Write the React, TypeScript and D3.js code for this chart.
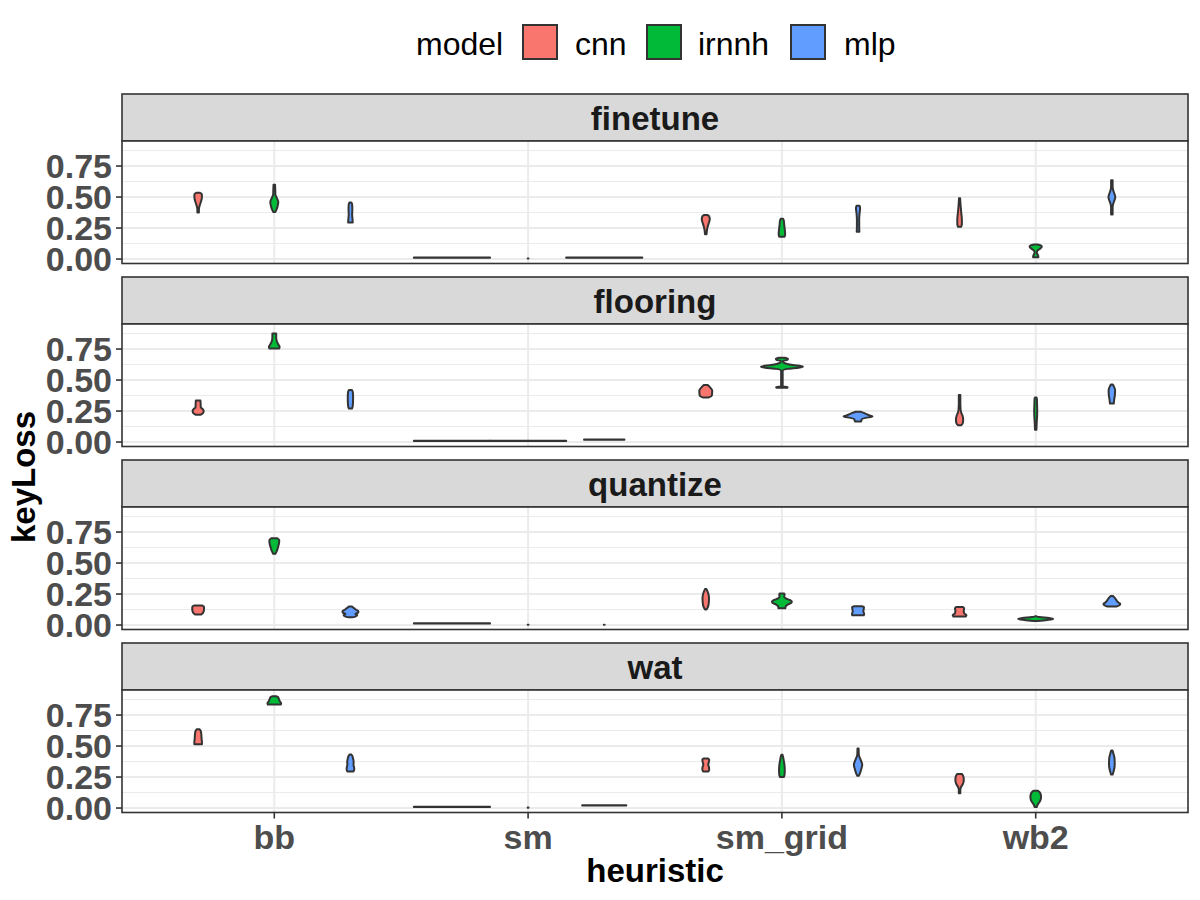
import React from "react";
import * as d3 from "d3";

// ---- data ----------------------------------------------------------------
const heuristics = ["bb", "sm", "sm_grid", "wb2"];
const models = ["cnn", "irnnh", "mlp"];
const modelColors = ["#F8766D", "#00BA38", "#619CFF"];
const facets = ["finetune", "flooring", "quantize", "wat"];
const yTicks = [0, 0.25, 0.5, 0.75];
const yMinorTicks = [0.125, 0.375, 0.625, 0.875];
const yTickLabels = ["0.00", "0.25", "0.50", "0.75"];

// Violin profiles: [keyLoss value, relative density width (1 = full dodge slot)]
type Profile = [number, number][];
type Violin = { heuristic: string; model: string; profile: Profile };

const finetuneViolins: Violin[] = [
  { heuristic: "bb", model: "cnn", profile: [[0.375, 0.02], [0.4, 0.02], [0.42, 0.03], [0.45, 0.06], [0.48, 0.09], [0.51, 0.1], [0.525, 0.09], [0.535, 0.04]] },
  { heuristic: "bb", model: "irnnh", profile: [[0.38, 0.03], [0.4, 0.06], [0.43, 0.09], [0.46, 0.105], [0.49, 0.07], [0.52, 0.03], [0.56, 0.025], [0.6, 0.02]] },
  { heuristic: "bb", model: "mlp", profile: [[0.295, 0.06], [0.32, 0.055], [0.36, 0.045], [0.4, 0.05], [0.44, 0.045], [0.455, 0.025]] },
  { heuristic: "sm", model: "cnn", profile: [[0.011, 1], [0.013, 1]] },
  { heuristic: "sm", model: "irnnh", profile: [[0.004, 0.01], [0.005, 0.01]] },
  { heuristic: "sm", model: "mlp", profile: [[0.011, 1], [0.013, 1]] },
  { heuristic: "sm_grid", model: "cnn", profile: [[0.2, 0.02], [0.23, 0.03], [0.26, 0.05], [0.29, 0.08], [0.32, 0.105], [0.345, 0.09], [0.355, 0.04]] },
  { heuristic: "sm_grid", model: "irnnh", profile: [[0.18, 0.07], [0.2, 0.085], [0.24, 0.075], [0.28, 0.06], [0.31, 0.05], [0.325, 0.03]] },
  { heuristic: "sm_grid", model: "mlp", profile: [[0.22, 0.035], [0.26, 0.03], [0.32, 0.03], [0.37, 0.04], [0.41, 0.055], [0.43, 0.04]] },
  { heuristic: "wb2", model: "cnn", profile: [[0.26, 0.04], [0.28, 0.06], [0.32, 0.06], [0.37, 0.045], [0.42, 0.03], [0.46, 0.02], [0.49, 0.015]] },
  { heuristic: "wb2", model: "irnnh", profile: [[0.015, 0.07], [0.03, 0.06], [0.05, 0.03], [0.065, 0.04], [0.085, 0.12], [0.1, 0.16], [0.112, 0.12], [0.118, 0.05]] },
  { heuristic: "wb2", model: "mlp", profile: [[0.36, 0.02], [0.42, 0.02], [0.45, 0.04], [0.5, 0.09], [0.55, 0.04], [0.58, 0.02], [0.635, 0.02]] },
];

const flooringViolins: Violin[] = [
  { heuristic: "bb", model: "cnn", profile: [[0.22, 0.06], [0.235, 0.13], [0.25, 0.145], [0.265, 0.12], [0.28, 0.07], [0.31, 0.065], [0.335, 0.06]] },
  { heuristic: "bb", model: "irnnh", profile: [[0.755, 0.13], [0.77, 0.14], [0.79, 0.1], [0.82, 0.06], [0.85, 0.05], [0.875, 0.05]] },
  { heuristic: "bb", model: "mlp", profile: [[0.27, 0.04], [0.29, 0.06], [0.35, 0.07], [0.4, 0.065], [0.42, 0.04]] },
  { heuristic: "sm", model: "cnn", profile: [[0.008, 1], [0.01, 1]] },
  { heuristic: "sm", model: "irnnh", profile: [[0.008, 1], [0.01, 1]] },
  { heuristic: "sm", model: "mlp", profile: [[0.018, 0.53], [0.02, 0.53]] },
  { heuristic: "sm_grid", model: "cnn", profile: [[0.36, 0.08], [0.375, 0.16], [0.415, 0.17], [0.445, 0.1], [0.46, 0.05]] },
  { heuristic: "sm_grid", model: "irnnh", profile: [[0.437, 0.14], [0.443, 0.15], [0.447, 0.02], [0.575, 0.02], [0.59, 0.15], [0.6, 0.45], [0.607, 0.55], [0.615, 0.45], [0.625, 0.2], [0.635, 0.08], [0.645, 0.03], [0.655, 0.03], [0.662, 0.14], [0.672, 0.16], [0.68, 0.08]] },
  { heuristic: "sm_grid", model: "mlp", profile: [[0.165, 0.08], [0.175, 0.09], [0.185, 0.1], [0.195, 0.2], [0.205, 0.38], [0.215, 0.3], [0.225, 0.22], [0.235, 0.15], [0.245, 0.06]] },
  { heuristic: "wb2", model: "cnn", profile: [[0.135, 0.04], [0.15, 0.08], [0.18, 0.095], [0.21, 0.08], [0.24, 0.04], [0.27, 0.025], [0.32, 0.02], [0.38, 0.02]] },
  { heuristic: "wb2", model: "irnnh", profile: [[0.1, 0.02], [0.15, 0.025], [0.2, 0.035], [0.25, 0.04], [0.3, 0.035], [0.35, 0.03], [0.36, 0.02]] },
  { heuristic: "wb2", model: "mlp", profile: [[0.31, 0.05], [0.34, 0.06], [0.38, 0.08], [0.42, 0.085], [0.45, 0.05], [0.465, 0.02]] },
];

const quantizeViolins: Violin[] = [
  { heuristic: "bb", model: "cnn", profile: [[0.085, 0.08], [0.095, 0.12], [0.11, 0.145], [0.13, 0.155], [0.15, 0.15], [0.158, 0.1]] },
  { heuristic: "bb", model: "irnnh", profile: [[0.575, 0.03], [0.6, 0.07], [0.63, 0.1], [0.66, 0.125], [0.685, 0.13], [0.7, 0.08]] },
  { heuristic: "bb", model: "mlp", profile: [[0.062, 0.05], [0.07, 0.14], [0.08, 0.18], [0.09, 0.13], [0.1, 0.2], [0.11, 0.21], [0.125, 0.14], [0.14, 0.08], [0.15, 0.04]] },
  { heuristic: "sm", model: "cnn", profile: [[0.012, 1], [0.014, 1]] },
  { heuristic: "sm", model: "irnnh", profile: [[0.002, 0.01], [0.003, 0.01]] },
  { heuristic: "sm", model: "mlp", profile: [[0.002, 0.01], [0.003, 0.01]] },
  { heuristic: "sm_grid", model: "cnn", profile: [[0.126, 0.02], [0.14, 0.05], [0.18, 0.08], [0.22, 0.085], [0.26, 0.06], [0.29, 0.02]] },
  { heuristic: "sm_grid", model: "irnnh", profile: [[0.135, 0.09], [0.15, 0.1], [0.165, 0.15], [0.18, 0.25], [0.19, 0.26], [0.2, 0.22], [0.215, 0.1], [0.23, 0.06], [0.245, 0.07], [0.255, 0.06]] },
  { heuristic: "sm_grid", model: "mlp", profile: [[0.078, 0.15], [0.09, 0.16], [0.11, 0.14], [0.13, 0.15], [0.145, 0.155], [0.152, 0.1]] },
  { heuristic: "wb2", model: "cnn", profile: [[0.068, 0.16], [0.08, 0.18], [0.095, 0.12], [0.115, 0.11], [0.135, 0.12], [0.145, 0.09]] },
  { heuristic: "wb2", model: "irnnh", profile: [[0.032, 0.05], [0.04, 0.3], [0.048, 0.46], [0.056, 0.35], [0.064, 0.1], [0.07, 0.02]] },
  { heuristic: "wb2", model: "mlp", profile: [[0.15, 0.12], [0.16, 0.2], [0.17, 0.22], [0.18, 0.18], [0.195, 0.13], [0.21, 0.1], [0.225, 0.06], [0.235, 0.02]] },
];

const watViolins: Violin[] = [
  { heuristic: "bb", model: "cnn", profile: [[0.515, 0.1], [0.53, 0.1], [0.56, 0.09], [0.59, 0.085], [0.62, 0.07], [0.635, 0.04]] },
  { heuristic: "bb", model: "irnnh", profile: [[0.835, 0.17], [0.845, 0.18], [0.86, 0.15], [0.88, 0.12], [0.895, 0.1], [0.902, 0.05]] },
  { heuristic: "bb", model: "mlp", profile: [[0.295, 0.08], [0.31, 0.1], [0.33, 0.095], [0.35, 0.08], [0.37, 0.085], [0.4, 0.07], [0.42, 0.05], [0.432, 0.02]] },
  { heuristic: "sm", model: "cnn", profile: [[0.009, 1], [0.011, 1]] },
  { heuristic: "sm", model: "irnnh", profile: [[0.003, 0.01], [0.004, 0.01]] },
  { heuristic: "sm", model: "mlp", profile: [[0.021, 0.58], [0.023, 0.58]] },
  { heuristic: "sm_grid", model: "cnn", profile: [[0.295, 0.07], [0.31, 0.09], [0.33, 0.085], [0.35, 0.065], [0.37, 0.08], [0.39, 0.09], [0.4, 0.06]] },
  { heuristic: "sm_grid", model: "irnnh", profile: [[0.25, 0.05], [0.27, 0.07], [0.3, 0.075], [0.34, 0.07], [0.38, 0.05], [0.42, 0.025], [0.43, 0.015]] },
  { heuristic: "sm_grid", model: "mlp", profile: [[0.26, 0.02], [0.28, 0.05], [0.32, 0.09], [0.35, 0.11], [0.38, 0.08], [0.41, 0.04], [0.43, 0.02], [0.48, 0.015]] },
  { heuristic: "wb2", model: "cnn", profile: [[0.12, 0.02], [0.15, 0.02], [0.17, 0.04], [0.19, 0.08], [0.22, 0.11], [0.25, 0.105], [0.275, 0.06]] },
  { heuristic: "wb2", model: "irnnh", profile: [[0.008, 0.03], [0.02, 0.04], [0.04, 0.08], [0.06, 0.12], [0.09, 0.14], [0.12, 0.12], [0.14, 0.06]] },
  { heuristic: "wb2", model: "mlp", profile: [[0.27, 0.02], [0.3, 0.05], [0.35, 0.075], [0.4, 0.07], [0.44, 0.04], [0.465, 0.015]] },
];

const facetViolins = [finetuneViolins, flooringViolins, quantizeViolins, watViolins];

// ---- layout --------------------------------------------------------------
const W = 1200;
const H = 900;
const panelLeft = 122;
const panelRight = 1188;
const firstStripTop = 94;
const facetStep = 183;
const stripH = 47;
const panelH = 122.5;
const FONT = "'Liberation Sans', Arial, Helvetica, sans-serif";

const x = d3.scalePoint<string>().domain(heuristics).range([panelLeft, panelRight]).padding(0.6);
const step = x.step();
const dodgeWidth = step * 0.9;
const slot = dodgeWidth / models.length;

function Panel({ index }: { index: number }) {
  const stripTop = firstStripTop + index * facetStep;
  const top = stripTop + stripH;
  const bottom = top + panelH;
  const y = d3.scaleLinear().domain([-0.036, 0.952]).range([bottom, top]);
  const violins = facetViolins[index];
  const isLast = index === facets.length - 1;

  return (
    <g>
      {/* strip */}
      <rect x={panelLeft} y={stripTop} width={panelRight - panelLeft} height={stripH} fill="#D9D9D9" stroke="#333333" strokeWidth={1.6} />
      <text x={(panelLeft + panelRight) / 2} y={stripTop + stripH / 2 + 12} textAnchor="middle" fontFamily={FONT} fontWeight="bold" fontSize={33} fill="#1A1A1A">
        {facets[index]}
      </text>
      {/* panel background + grid */}
      <rect x={panelLeft} y={top} width={panelRight - panelLeft} height={panelH} fill="#FFFFFF" />
      {yMinorTicks.map((t) => (
        <line key={"mn" + t} x1={panelLeft} x2={panelRight} y1={y(t)} y2={y(t)} stroke="#EBEBEB" strokeWidth={1} />
      ))}
      {yTicks.map((t) => (
        <line key={"mj" + t} x1={panelLeft} x2={panelRight} y1={y(t)} y2={y(t)} stroke="#EBEBEB" strokeWidth={2} />
      ))}
      {heuristics.map((h) => (
        <line key={"vx" + h} x1={x(h)} x2={x(h)} y1={top} y2={bottom} stroke="#EBEBEB" strokeWidth={2} />
      ))}
      {/* violins */}
      {violins.map((v, i) => {
        const mi = models.indexOf(v.model);
        const cx = (x(v.heuristic) as number) + (mi - (models.length - 1) / 2) * slot;
        const area = d3
          .area<[number, number]>()
          .y((d) => y(d[0]))
          .x0((d) => cx - (d[1] * slot) / 2)
          .x1((d) => cx + (d[1] * slot) / 2)
          .curve(d3.curveMonotoneY);
        return (
          <path key={i} d={area(v.profile) || ""} fill={modelColors[mi]} stroke="#333333" strokeWidth={2} strokeLinejoin="round" />
        );
      })}
      {/* border */}
      <rect x={panelLeft} y={top} width={panelRight - panelLeft} height={panelH} fill="none" stroke="#333333" strokeWidth={1.6} />
      {/* y axis */}
      {yTicks.map((t, k) => (
        <g key={"yt" + t}>
          <line x1={panelLeft - 6} x2={panelLeft} y1={y(t)} y2={y(t)} stroke="#333333" strokeWidth={1.6} />
          <text x={112} y={y(t) + 12} textAnchor="end" fontFamily={FONT} fontWeight="bold" fontSize={34} fill="#4D4D4D">
            {yTickLabels[k]}
          </text>
        </g>
      ))}
      {/* x axis on the bottom panel */}
      {isLast &&
        heuristics.map((h) => (
          <g key={"xt" + h}>
            <line x1={x(h)} x2={x(h)} y1={bottom} y2={bottom + 6} stroke="#333333" strokeWidth={1.6} />
            <text x={x(h)} y={849} textAnchor="middle" fontFamily={FONT} fontWeight="bold" fontSize={34} fill="#4D4D4D">
              {h}
            </text>
          </g>
        ))}
    </g>
  );
}

// legend entries: key box x, label x
const legendKeyX = [523, 647, 791];
const legendLabelX = [575, 698, 844];

export default function App() {
  return (
    <svg width={W} height={H} style={{ position: "absolute", left: 0, top: 0, background: "#FFFFFF" }}>
      <rect x={0} y={0} width={W} height={H} fill="#FFFFFF" />
      {/* legend */}
      <text x={416} y={55} fontFamily={FONT} fontSize={32} fill="#000000">
        model
      </text>
      {models.map((m, i) => (
        <g key={m}>
          <rect x={legendKeyX[i]} y={25} width={34} height={34} fill={modelColors[i]} stroke="#333333" strokeWidth={2} />
          <text x={legendLabelX[i]} y={55} fontFamily={FONT} fontSize={32} fill="#000000">
            {m}
          </text>
        </g>
      ))}
      {facets.map((f, i) => (
        <Panel key={f} index={i} />
      ))}
      {/* axis titles */}
      <text x={655} y={882} textAnchor="middle" fontFamily={FONT} fontWeight="bold" fontSize={33} fill="#000000">
        heuristic
      </text>
      <text transform="translate(35,477) rotate(-90)" textAnchor="middle" fontFamily={FONT} fontWeight="bold" fontSize={33} fill="#000000">
        keyLoss
      </text>
    </svg>
  );
}
